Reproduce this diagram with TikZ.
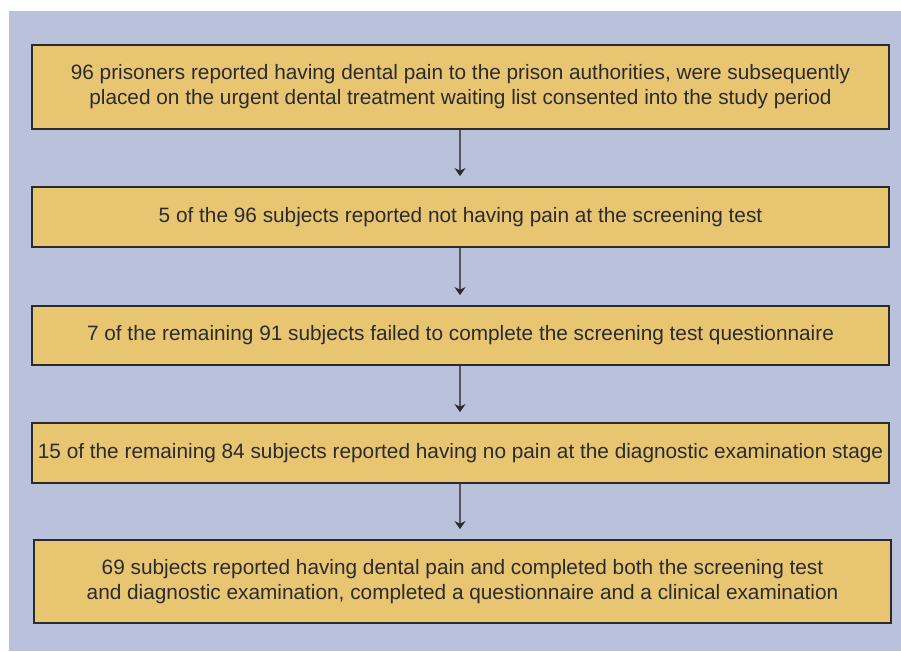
\documentclass[tikz,border=0pt]{standalone}
\usepackage{fontspec}
\setmainfont{Liberation Sans}
\usetikzlibrary{arrows.meta}
\definecolor{panelblue}{RGB}{185,193,219}
\definecolor{boxfill}{RGB}{232,198,113}
\definecolor{inkgray}{RGB}{43,43,45}
\definecolor{shaftgray}{RGB}{85,85,90}
\tikzset{
  stage/.style={draw=inkgray,line width=1.8pt,fill=boxfill,text=inkgray,
    align=center,inner sep=0pt,minimum width=857pt,
    font=\fontsize{20.8}{25}\selectfont},
  flow/.style={draw=shaftgray,line width=1.3pt,
    -{Stealth[length=8pt,width=11pt,inset=2.5pt,color=inkgray]},shorten >=10pt}
}
\begin{document}
\begin{tikzpicture}[x=1pt,y=-1pt]
\useasboundingbox(0,0)rectangle(901,651);
\fill[panelblue](9,11)rectangle(901,651);
% the five stages, top to bottom
\node[stage,minimum height=84pt](pain)at(460.5,87){96 prisoners reported having dental pain to the prison authorities, were subsequently\\placed on the urgent dental treatment waiting list consented into the study period};
\node[stage,minimum height=60pt](screen)at(460.5,217){5 of the 96 subjects reported not having pain at the screening test};
\node[stage,minimum height=59pt](quest)at(460.5,335.5){7 of the remaining 91 subjects failed to complete the screening test questionnaire};
\node[stage,minimum height=60pt](diag)at(460.5,453){15 of the remaining 84 subjects reported having no pain at the diagnostic examination stage};
\node[stage,minimum height=83pt](final)at(462.5,581.5){69 subjects reported having dental pain and completed both the screening test\\and diagnostic examination, completed a questionnaire and a clinical examination};
\draw[flow](pain.south-|460,0)--(screen.north-|460,0);
\draw[flow](screen.south-|460,0)--(quest.north-|460,0);
\draw[flow](quest.south-|460,0)--(diag.north-|460,0);
\draw[flow](diag.south-|460,0)--(final.north-|460,0);
\end{tikzpicture}
\end{document}
